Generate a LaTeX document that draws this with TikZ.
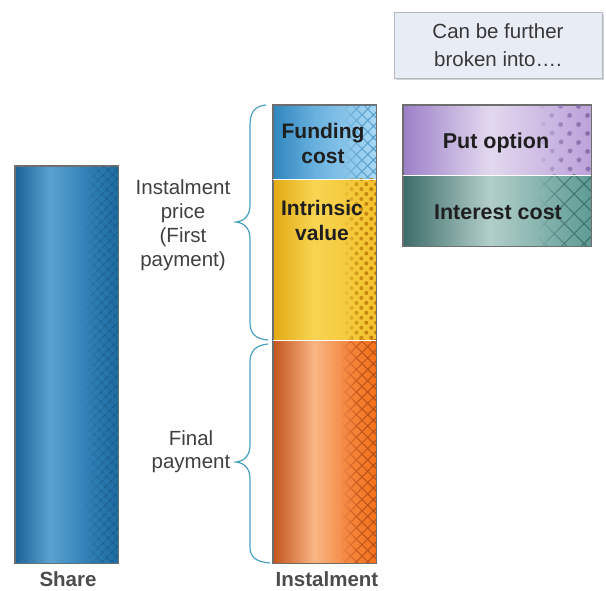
\documentclass[tikz,border=0pt]{standalone}
\usepackage{fontspec}
\setmainfont{Liberation Sans}
\usetikzlibrary{patterns.meta,fadings,shadows}

\definecolor{shA}{HTML}{1B6396}\definecolor{shB}{HTML}{5AA2D0}\definecolor{shC}{HTML}{3484BA}\definecolor{shD}{HTML}{1D6CA2}
\definecolor{fuA}{HTML}{2F86BE}\definecolor{fuB}{HTML}{68B0DE}\definecolor{fuC}{HTML}{A8D8F4}
\definecolor{inA}{HTML}{E2AA14}\definecolor{inB}{HTML}{F8D452}\definecolor{inC}{HTML}{F2C22C}
\definecolor{orA}{HTML}{C4541C}\definecolor{orB}{HTML}{F9B684}\definecolor{orC}{HTML}{F58A44}\definecolor{orD}{HTML}{F47018}
\definecolor{puA}{HTML}{9C80C8}\definecolor{puB}{HTML}{E2D8EE}\definecolor{puC}{HTML}{BCA2DA}
\definecolor{teA}{HTML}{3C6C68}\definecolor{teB}{HTML}{B2CEC9}\definecolor{teC}{HTML}{5E9C95}
\definecolor{braceC}{HTML}{4AA0C0}
\definecolor{borderC}{HTML}{6E6E6E}
\definecolor{noteFill}{HTML}{E8ECF4}
\definecolor{noteDraw}{HTML}{B4B8C0}

\pgfdeclarehorizontalshading{shareSh}{100bp}{color(0bp)=(shA); color(25bp)=(shA); color(42bp)=(shB); color(58bp)=(shC); color(75bp)=(shD); color(100bp)=(shD)}
\pgfdeclarehorizontalshading{fundSh}{100bp}{color(0bp)=(fuA); color(25bp)=(fuA); color(45bp)=(fuB); color(75bp)=(fuC); color(100bp)=(fuC)}
\pgfdeclarehorizontalshading{intrSh}{100bp}{color(0bp)=(inA); color(25bp)=(inA); color(45bp)=(inB); color(75bp)=(inC); color(100bp)=(inC)}
\pgfdeclarehorizontalshading{finSh}{100bp}{color(0bp)=(orA); color(25bp)=(orA); color(45bp)=(orB); color(60bp)=(orC); color(75bp)=(orD); color(100bp)=(orD)}
\pgfdeclarehorizontalshading{putSh}{100bp}{color(0bp)=(puA); color(25bp)=(puA); color(48bp)=(puB); color(75bp)=(puC); color(100bp)=(puC)}
\pgfdeclarehorizontalshading{intcSh}{100bp}{color(0bp)=(teA); color(25bp)=(teA); color(48bp)=(teB); color(75bp)=(teC); color(100bp)=(teC)}

\tikzfading[name=fadeR, left color=transparent!100, right color=transparent!0, middle color=transparent!25]

\begin{document}
\begin{tikzpicture}[x=1pt,y=-1pt,
  seg/.style={rectangle, inner sep=0pt, draw=borderC, line width=0.8pt},
  boxlbl/.style={font=\fontsize{21}{25}\selectfont\bfseries, text=black!88, align=center},
  sidelbl/.style={font=\fontsize{20.5}{24}\selectfont, text=black!75, align=center},
  botlbl/.style={font=\fontsize{20.5}{24}\selectfont\bfseries, text=black!70},
  hatchov/.style={pattern={Hatch[angle=45,distance=8pt,line width=1pt]}, path fading=fadeR},
  bracestyle/.style={draw=braceC, line width=1.2pt}
]
\useasboundingbox (0,0) rectangle (606,590);

% Share bar
\node[seg, shading=shareSh, minimum width=103pt, minimum height=397pt] (share) at (66.5,364.5) {};
\fill[pattern={Hatch[angle=45,distance=6.5pt,line width=0.9pt]}, path fading=fadeR, pattern color=shA!85!black, fill opacity=0.8] ([xshift=-36pt]share.north east) rectangle (share.south east);
\draw[borderC, line width=0.8pt] (share.north west) rectangle (share.south east);

% Instalment column
\node[seg, shading=fundSh, minimum width=103pt, minimum height=74pt] (fund) at (324.5,142) {};
\fill[hatchov, pattern color=fuA!85] ([xshift=-36pt]fund.north east) rectangle (fund.south east);
\node[seg, shading=intrSh, minimum width=103pt, minimum height=161pt] (intr) at (324.5,259.5) {};
\fill[pattern={Dots[angle=45,distance=7pt,radius=2pt]}, path fading=fadeR, pattern color=inA!60!orange!80!black] ([xshift=-34pt]intr.north east) rectangle (intr.south east);
\node[seg, shading=finSh, minimum width=103pt, minimum height=223pt] (fin) at (324.5,451.5) {};
\fill[hatchov, pattern color=orA!90!black] ([xshift=-36pt]fin.north east) rectangle (fin.south east);
\draw[borderC, line width=0.8pt] (fund.north west) rectangle (fin.south east);
\draw[white, line width=1.5pt] (fund.south west) -- (fund.south east);
\draw[white, line width=1.5pt] (intr.south west) -- (intr.south east);

% Further breakdown
\node[seg, shading=putSh, minimum width=188pt, minimum height=70pt] (put) at (497,140) {};
\fill[pattern={Dots[angle=45,distance=13pt,radius=2.6pt]}, path fading=fadeR, pattern color=puA!85!black] ([xshift=-55pt]put.north east) rectangle (put.south east);
\node[seg, shading=intcSh, minimum width=188pt, minimum height=71pt] (intc) at (497,210.5) {};
\fill[pattern={Hatch[angle=45,distance=14pt,line width=1pt]}, path fading=fadeR, pattern color=teA] ([xshift=-55pt]intc.north east) rectangle (intc.south east);
\draw[borderC, line width=0.8pt] (put.north west) rectangle (intc.south east);
\draw[white, line width=1.5pt] (put.south west) -- (put.south east);

% Note box
\node[rectangle, draw=noteDraw, fill=noteFill, line width=0.8pt, minimum width=208pt, minimum height=66pt,
      drop shadow={shadow xshift=2pt, shadow yshift=-2pt, opacity=0.35},
      font=\fontsize{20.5}{28}\selectfont, text=black!78, align=center] (note) at (498,45)
  {Can be further\\broken into\dots.};

% Texts in boxes
\node[boxlbl] (tfund) at (323,143) {Funding\\cost};
\node[boxlbl] (tintr) at (322,220) {Intrinsic\\value};
\node[boxlbl, font=\fontsize{21.5}{25}\selectfont\bfseries] (tput) at (496,143) {Put option};
\node[boxlbl, font=\fontsize{21.5}{25}\selectfont\bfseries] (tintc) at (498,212) {Interest cost};

% Side labels
\node[sidelbl] (tfirst) at (183,225) {Instalment\\price\\(First\\payment)};
\node[sidelbl, font=\fontsize{20.5}{23}\selectfont] (tfinal) at (191,452) {Final\\payment};

% Bottom labels
\node[botlbl] (tshare) at (68,579) {Share};
\node[botlbl] (tinst) at (327,579) {Instalment};

% Braces
\draw[bracestyle] (266,105) .. controls (255,106) and (250,112) .. (250,125) -- (250,205)
  .. controls (250,215) and (245,221) .. (236,222) .. controls (245,223) and (250,229) .. (250,239)
  -- (250,322) .. controls (250,333) and (255,339) .. (268,340);
\draw[bracestyle] (268,344) .. controls (256,345) and (250,351) .. (250,362) -- (250,445)
  .. controls (250,455) and (245,461) .. (236,462) .. controls (245,463) and (250,469) .. (250,479)
  -- (250,547) .. controls (250,557) and (256,562) .. (270,563);
\end{tikzpicture}
\end{document}
